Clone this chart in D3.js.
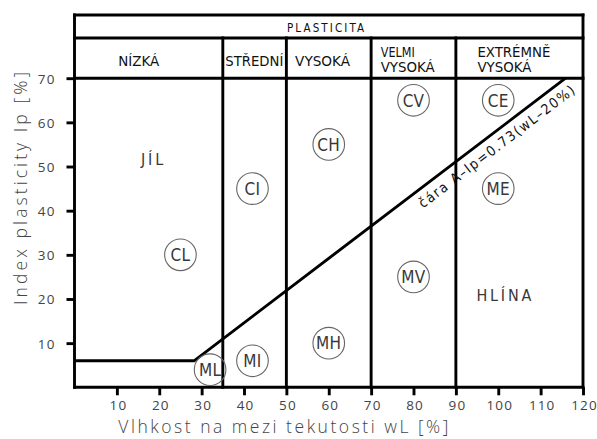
<!DOCTYPE html>
<html><head><meta charset="utf-8">
<script src="https://cdn.jsdelivr.net/npm/d3@7"></script>
<style>
html,body{margin:0;padding:0;background:#fff;}
svg{display:block;}
</style>
</head><body>
<script>
// ---- data ----
const xTicks = [10,20,30,40,50,60,70,80,90,100,110,120];
const yTicks = [10,20,30,40,50,60,70];
const zoneBounds = [0,35,50,70,90,120];
const headerTitle = "PLASTICITA";
const headerLabels = [["NÍZKÁ"],["STŘEDNÍ"],["VYSOKÁ"],["VELMI","VYSOKÁ"],["EXTRÉMNĚ","VYSOKÁ"]];
const soilCodes = ["CL","CI","CH","CV","CE","ML","MI","MH","MV","ME"];
const soilWL    = [25, 42, 60, 80, 100, 32, 42, 60, 80, 100];
const soilIp    = [30, 45, 55, 65, 65,  4,  6,  10, 25, 45];
const regionNames = ["JÍL","HLÍNA"];
const regionWL = [18.3, 101.3];
const regionIp = [50.3, 19.6];
const aSlope = 0.73, aOffset = 20, lowIp = 6, maxIp = 70, maxWL = 120;
const aLabel = "čára A–Ip=0.73(wL–20%)";
const xTitle = "Vlhkost na mezi tekutosti wL [%]";
const yTitle = "Index plasticity Ip [%]";

// ---- layout ----
const W = 597, H = 439;
const x = d3.scaleLinear().domain([0, maxWL]).range([74.5, 583]);
const y = d3.scaleLinear().domain([0, maxIp]).range([387.3, 78.2]);
const topY = 15, rowY = 38;
const LW = 2.9;
const condensed = "'DejaVu Sans Condensed','DejaVu Sans',sans-serif";
const light = "'Open Sans','DejaVu Sans',sans-serif";

const svg = d3.select("body").append("svg").attr("width", W).attr("height", H);

// axes ticks
const gx = svg.append("g").attr("transform", `translate(0,${y(0)})`)
  .call(d3.axisBottom(x).tickValues(xTicks).tickSize(8).tickPadding(3).tickFormat(d3.format("d")));
const gy = svg.append("g").attr("transform", `translate(${x(0)},0)`)
  .call(d3.axisLeft(y).tickValues(yTicks).tickSize(8).tickPadding(11).tickFormat(d3.format("d")));
[gx, gy].forEach(g => {
  g.select(".domain").remove();
  g.selectAll(".tick line").attr("stroke", "#000").attr("stroke-width", LW);
  g.selectAll(".tick text").attr("fill", "#444").style("font-family", light)
    .style("font-size", "13.5px").style("letter-spacing", "1.1px");
});
gx.selectAll(".tick text").attr("dy", "0.85em").attr("dx", "1px");
gy.selectAll(".tick text").attr("dy", "0.36em");

const lines = svg.append("g").attr("stroke", "#000").attr("stroke-width", LW)
  .attr("fill", "none").attr("stroke-linecap", "square");
// outer box
lines.append("line").attr("x1", x(0)).attr("x2", x(maxWL)).attr("y1", topY).attr("y2", topY);
lines.append("line").attr("x1", x(0)).attr("x2", x(maxWL)).attr("y1", rowY).attr("y2", rowY);
lines.append("line").attr("x1", x(0)).attr("x2", x(maxWL)).attr("y1", y(maxIp)).attr("y2", y(maxIp));
lines.append("line").attr("x1", x(0)).attr("x2", x(maxWL)).attr("y1", y(0)).attr("y2", y(0));
lines.append("line").attr("x1", x(0)).attr("x2", x(0)).attr("y1", topY).attr("y2", y(0));
lines.append("line").attr("x1", x(maxWL)).attr("x2", x(maxWL)).attr("y1", topY).attr("y2", y(0));
// zone dividers
zoneBounds.slice(1, -1).forEach(b => {
  lines.append("line").attr("x1", x(b)).attr("x2", x(b)).attr("y1", rowY).attr("y2", y(0));
});
// low horizontal + A-line
const wlAt = ip => aOffset + ip / aSlope;
lines.append("path").attr("stroke-linecap", "butt").attr("stroke-linejoin", "miter")
  .attr("d", d3.line()([[x(0), y(lowIp)], [x(wlAt(lowIp)), y(lowIp)], [x(wlAt(maxIp)), y(maxIp)]]));

// header text
const hdr = svg.append("g").attr("fill", "#111").style("font-family", condensed);
hdr.append("text").attr("x", 287).attr("y", 31.7).attr("textLength", 77)
  .attr("lengthAdjust", "spacing").style("font-size", "11.5px").text(headerTitle);
const hdrPad = [43.8, 2.5, 8.7, 9.6, 21.5];
const hdrWidths = [[41], [58], [55], [34, 54], [73, 54]];
headerLabels.forEach((lbls, i) => {
  const sx = x(zoneBounds[i]) + hdrPad[i];
  const baselines = lbls.length === 1 ? [65.7] : [56.7, 72];
  lbls.forEach((t, j) => {
    hdr.append("text").attr("x", sx).attr("y", baselines[j])
      .attr("textLength", hdrWidths[i][j]).attr("lengthAdjust", "spacingAndGlyphs")
      .style("font-size", "13.3px").text(t);
  });
});

// soil circles
const circ = svg.append("g");
soilCodes.forEach((c, i) => {
  const cx = x(soilWL[i]), cy = y(soilIp[i]);
  circ.append("circle").attr("cx", cx).attr("cy", cy).attr("r", 15.8)
    .attr("fill", "none").attr("stroke", "#666").attr("stroke-width", 1.1);
  circ.append("text").attr("x", cx).attr("y", cy).attr("dy", "0.37em")
    .attr("text-anchor", "middle").attr("fill", "#383838")
    .style("font-family", condensed).style("font-size", "17px").style("letter-spacing", "0.3px")
    .text(c);
});

// region names
regionNames.forEach((t, i) => {
  svg.append("text").attr("x", x(regionWL[i]) + 1.5).attr("y", y(regionIp[i]))
    .attr("text-anchor", "middle").attr("fill", "#383838")
    .style("font-family", condensed).style("font-size", "16px").style("letter-spacing", "2.8px")
    .text(t);
});

// A-line label
const angle = Math.atan2(y(maxIp) - y(lowIp), x(wlAt(maxIp)) - x(wlAt(lowIp))) * 180 / Math.PI;
const lwl = 97.8;
svg.append("g").attr("transform", `translate(${x(lwl)},${y(aSlope * (lwl - aOffset))}) rotate(${angle})`)
  .append("text").attr("x", 0).attr("y", 17.5).attr("text-anchor", "middle")
  .attr("fill", "#111").attr("textLength", 192).attr("lengthAdjust", "spacing")
  .style("font-family", condensed).style("font-size", "14px").text(aLabel);

// axis titles
svg.append("text").attr("x", 118.3).attr("y", 433.3).attr("textLength", 330)
  .attr("lengthAdjust", "spacing").attr("fill", "#444")
  .style("font-family", light).style("font-weight", "300").style("font-size", "17.5px").text(xTitle);
svg.append("g").attr("transform", "translate(27,188.5) rotate(-90)")
  .append("text").attr("text-anchor", "middle").attr("textLength", 233)
  .attr("lengthAdjust", "spacing").attr("fill", "#444")
  .style("font-family", light).style("font-weight", "300").style("font-size", "17.5px").text(yTitle);
</script>
</body></html>
